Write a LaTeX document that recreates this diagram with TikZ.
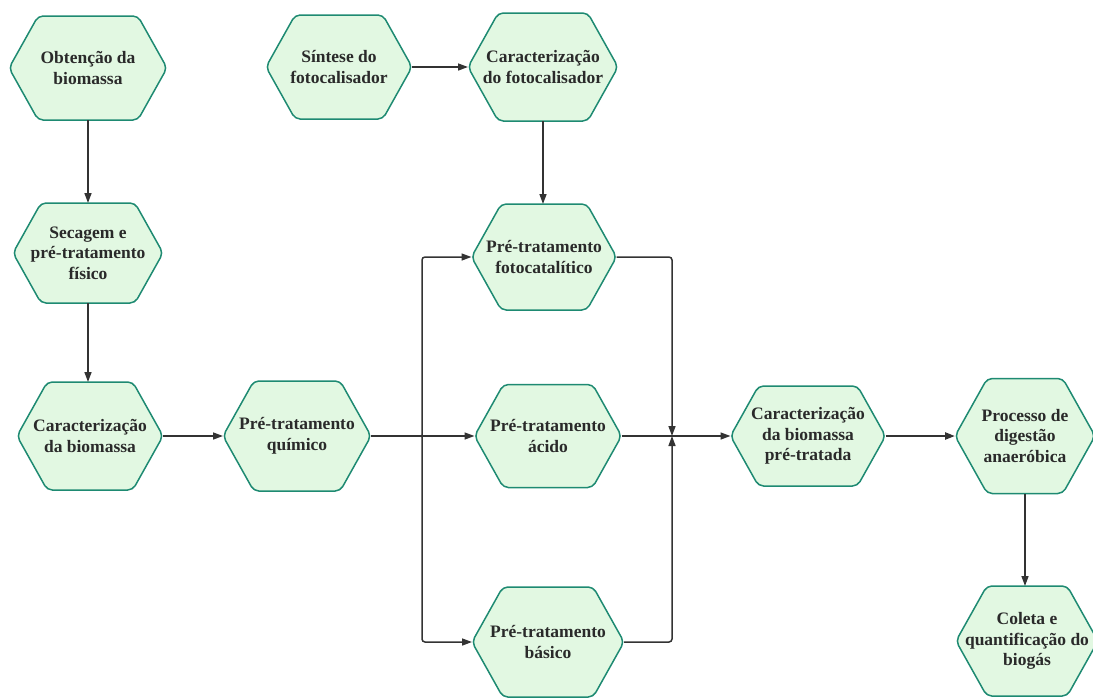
\documentclass[tikz,border=0pt]{standalone}
\usepackage{fontspec}
\setmainfont{Liberation Serif}
\usetikzlibrary{arrows.meta,calc}
\definecolor{hexfill}{HTML}{E2F8E2}
\definecolor{hexdraw}{HTML}{1E8A72}
\definecolor{ink}{HTML}{2A2A2A}
\definecolor{wire}{HTML}{333333}
\newcommand\hexnode[6]{%
  \filldraw[hexline] ({#2-#4/2},#3) -- ({#2-#4/2+0.28*#5},{#3-#5/2}) -- ({#2+#4/2-0.28*#5},{#3-#5/2}) -- ({#2+#4/2},#3) -- ({#2+#4/2-0.28*#5},{#3+#5/2}) -- ({#2-#4/2+0.28*#5},{#3+#5/2}) -- cycle;
  \node[hexbox, minimum width=#4, minimum height=#5] (#1) at (#2,#3) {#6};
}
\tikzset{
  hexline/.style={fill=hexfill, draw=hexdraw, line width=1.5pt, rounded corners=5pt},
  hexbox/.style={inner sep=0pt, outer sep=0pt, align=center, text=ink,
    font=\fontsize{17.5}{20.5}\selectfont\bfseries},
  arr/.style={draw=wire, line width=1.5pt, -{Triangle[length=10pt,width=7pt]}},
}
\begin{document}
\begin{tikzpicture}[x=1pt,y=-1pt]
\clip (0,0) rectangle (1093,697);
\hexnode{obt}{88}{68}{158}{104}{Obtenção da\\biomassa}
\hexnode{sint}{339}{67}{146}{104}{Síntese do\\fotocalisador}
\hexnode{cfoto}{543}{67}{150}{108}{Caracterização\\do fotocalisador}
\hexnode{sec}{88}{253}{150}{100}{Secagem e\\pré-tratamento\\físico}
\hexnode{cbio}{90}{436}{146}{108}{Caracterização\\da biomassa}
\hexnode{quim}{297}{436}{148}{110}{Pré-tratamento\\químico}
\hexnode{foto}{544}{257}{145}{106}{Pré-tratamento\\fotocatalítico}
\hexnode{acido}{548}{436}{147}{103}{Pré-tratamento\\ácido}
\hexnode{basico}{548}{642}{152}{110}{Pré-tratamento\\básico}
\hexnode{ptrat}{808}{436}{155}{100}{Caracterização\\da biomassa\\pré-tratada}
\hexnode{proc}{1025}{436}{140}{115}{Processo de\\digestão\\anaeróbica}
\hexnode{col}{1027}{641}{142}{110}{Coleta e\\quantificação do\\biogás}

\draw[arr] (obt.south) -- (sec.north);
\draw[arr] (sec.south) -- (sec.south |- cbio.north);
\draw[arr] (cbio.east) -- (quim.west);
\draw[arr] (sint.east) -- (cfoto.west);
\draw[arr] (cfoto.south) -- (cfoto.south |- foto.north);

\coordinate (jq) at (422,436);
\draw[arr] (quim.east) -- (acido.west);
\draw[arr, rounded corners=3pt] (jq) |- (foto.west);
\draw[arr, rounded corners=3pt] (jq) |- (basico.west);
\fill[wire] (jq) circle (1.6pt);

\coordinate (jm) at (672,436);
\draw[arr, rounded corners=3pt] (foto.east) -| (jm);
\draw[arr, rounded corners=3pt] (basico.east) -| (jm);
\draw[arr] (acido.east) -- (ptrat.west);
\draw[arr, line width=2.2pt] (ptrat.east) -- (proc.west);
\draw[arr] (proc.south) -- (proc.south |- col.north);
\end{tikzpicture}
\end{document}
